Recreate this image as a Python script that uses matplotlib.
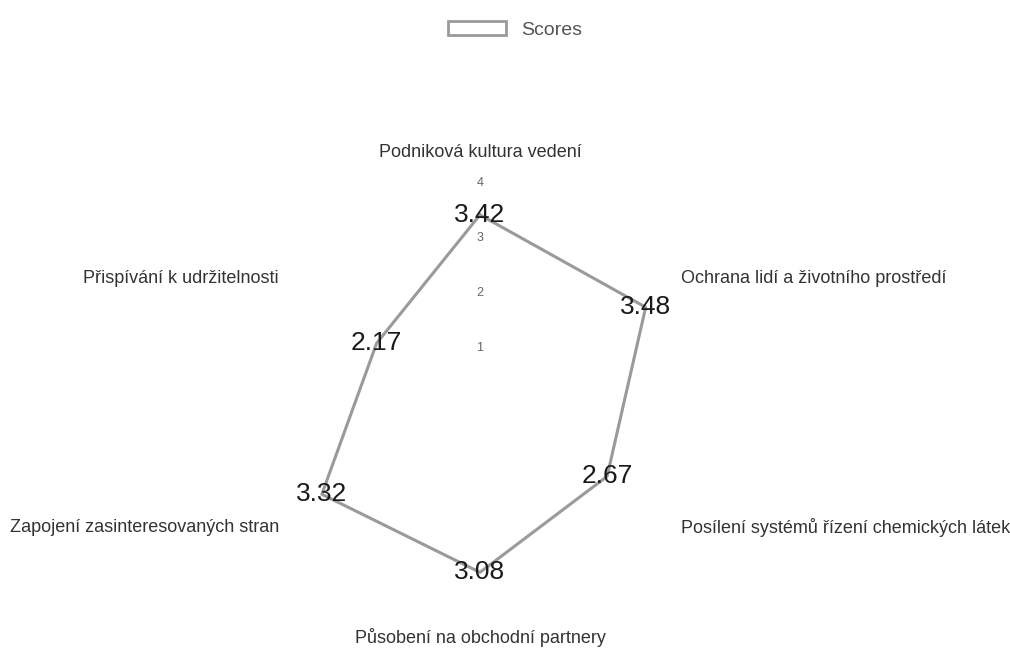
import numpy as np
import matplotlib.pyplot as plt
from matplotlib.patches import Patch

plt.rcParams['font.family'] = ['Liberation Sans', 'DejaVu Sans']

categories = ['Podniková kultura vedení',
              'Ochrana lidí a životního prostředí',
              'Posílení systémů řízení chemických látek',
              'Působení na obchodní partnery',
              'Zapojení zasinteresovaných stran',
              'Přispívání k udržitelnosti']
scores = [3.42, 3.48, 2.67, 3.08, 3.32, 2.17]
r_ticks = [1, 2, 3, 4]

n = len(categories)
# start at top, go clockwise
angles = np.pi / 2 - np.arange(n) * 2 * np.pi / n

fig = plt.figure(figsize=(10.1, 6.55), dpi=100)
ax = fig.add_axes([0.2574, 0.0489, 0.4356, 0.6718], projection='polar')
ax.set_ylim(0, 4)
ax.grid(False)
ax.set_xticks([])
ax.set_yticks([])
ax.spines['polar'].set_visible(False)
ax.patch.set_alpha(0)

closed_a = np.append(angles, angles[0])
closed_s = np.append(scores, scores[0])
ax.plot(closed_a, closed_s, color='#9a9a9a', lw=2.2, zorder=2)

# radial tick labels
for t in r_ticks:
    ax.text(np.pi / 2, t, str(t), ha='center', va='center',
            fontsize=9, color='#666666', zorder=1)

# value labels on the points
for a, s in zip(angles, scores):
    ax.text(a, s, f'{s:.2f}', ha='center', va='center',
            fontsize=19, color='#1a1a1a', zorder=3)

# category labels
label_r = [4.55, 4.22, 4.22, 4.27, 4.22, 4.22]
for a, lab, rr in zip(angles, categories, label_r):
    c, s = np.cos(a), np.sin(a)
    if abs(c) < 1e-6:
        ha, dy = 'center', 0
    elif c > 0:
        ha, dy = 'left', 6 * np.sign(s)
    else:
        ha, dy = 'right', 6 * np.sign(s)
    ax.annotate(lab, (a, rr), xytext=(0, dy), textcoords='offset points',
                ha=ha, va='center', fontsize=13, color='#333333',
                annotation_clip=False)

handle = Patch(facecolor='white', edgecolor='#9a9a9a', lw=2, label='Scores')
fig.legend(handles=[handle], loc='upper center', bbox_to_anchor=(0.51, 0.995),
           frameon=False, fontsize=14, handlelength=3.0, handleheight=0.75,
           labelcolor='#555555')

fig.savefig('out.png', dpi=100)
